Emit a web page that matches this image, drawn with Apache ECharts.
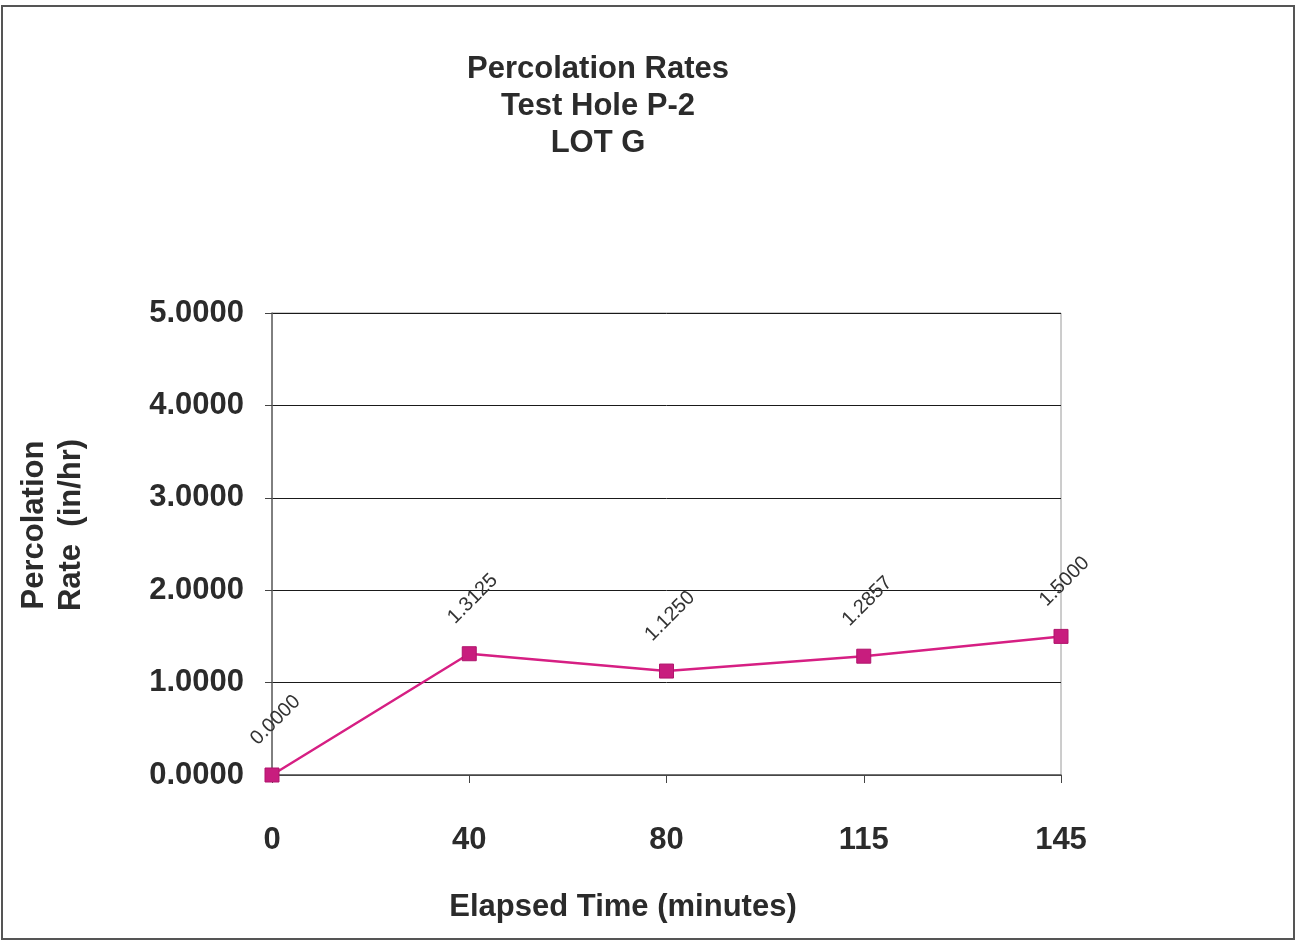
<!DOCTYPE html>
<html>
<head>
<meta charset="utf-8">
<script src="https://cdn.jsdelivr.net/npm/echarts@6/dist/echarts.min.js"></script>
<style>
  html, body { margin: 0; padding: 0; background: #fff; }
  #chart { width: 1297px; height: 943px; }
</style>
</head>
<body>
<div id="chart"></div>
<script>
// Elapsed time categories (minutes) and percolation rates (in/hr)
const elapsedMinutes = ['0', '40', '80', '115', '145'];
const percolationRates = [0.0, 1.3125, 1.1250, 1.2857, 1.5000];
const titleLines = ['Percolation Rates', 'Test Hole P-2', 'LOT G'];
const xAxisTitle = 'Elapsed Time (minutes)';
const yAxisTitleLines = ['Percolation', 'Rate  (in/hr)'];

const FONT = '"Liberation Sans", Arial, sans-serif';
const INK = '#2b2b2b';
const BIG = 31;

const chart = echarts.init(document.getElementById('chart'), null, { renderer: 'canvas' });

chart.setOption({
  backgroundColor: '#ffffff',
  animation: false,
  graphic: [
    {
      // outer frame of the chart sheet
      type: 'rect',
      shape: { x: 2, y: 6, width: 1292, height: 933 },
      style: { fill: 'none', stroke: '#555', lineWidth: 2 },
      silent: true
    },
    {
      type: 'text',
      x: 598, y: 106,
      style: {
        text: titleLines.join('\n'), align: 'center', verticalAlign: 'middle',
        font: 'bold ' + BIG + 'px ' + FONT, lineHeight: 37, fill: INK
      },
      silent: true
    },
    {
      type: 'text',
      x: 623, y: 907,
      style: {
        text: xAxisTitle, align: 'center', verticalAlign: 'middle',
        font: 'bold ' + BIG + 'px ' + FONT, fill: INK
      },
      silent: true
    },
    {
      type: 'text',
      x: 53, y: 525,
      rotation: Math.PI / 2,
      style: {
        text: yAxisTitleLines.join('\n'), align: 'center', verticalAlign: 'middle',
        font: 'bold ' + BIG + 'px ' + FONT, lineHeight: 37, fill: INK
      },
      silent: true
    }
  ],
  grid: {
    left: 272, right: 236, top: 313, bottom: 168,
    show: true, borderColor: '#9a9a9a', borderWidth: 1, backgroundColor: 'transparent'
  },
  xAxis: {
    type: 'category',
    data: elapsedMinutes,
    boundaryGap: false,
    axisLine: { show: true, lineStyle: { color: '#555', width: 1.5 } },
    axisTick: { show: true, inside: false, length: 8, alignWithLabel: true, lineStyle: { color: '#444' } },
    axisLabel: { margin: 50, fontFamily: FONT, fontWeight: 'bold', fontSize: BIG, color: INK },
    splitLine: { show: false }
  },
  yAxis: {
    type: 'value',
    min: 0, max: 5, interval: 1,
    axisLine: { show: true, lineStyle: { color: '#666', width: 1.5 } },
    axisTick: { show: true, inside: false, length: 7, lineStyle: { color: '#444' } },
    axisLabel: {
      margin: 28, fontFamily: FONT, fontWeight: 'bold', fontSize: BIG, color: INK,
      formatter: v => v.toFixed(4)
    },
    splitLine: { show: true, lineStyle: { color: '#1a1a1a', width: 1 } }
  },
  series: [{
    type: 'line',
    data: percolationRates,
    symbol: 'rect',
    symbolSize: 14,
    itemStyle: { color: '#c81d7e', borderColor: '#b0156c', borderWidth: 1 },
    lineStyle: { color: '#d61f83', width: 2.5 },
    label: {
      show: true,
      position: 'top',
      distance: 0,
      rotate: 45,
      align: 'center',
      verticalAlign: 'middle',
      offset: [36, -31],
      fontFamily: FONT,
      fontSize: 20,
      color: '#333',
      formatter: p => p.value.toFixed(4)
    },
    z: 5
  }]
});
</script>
</body>
</html>
